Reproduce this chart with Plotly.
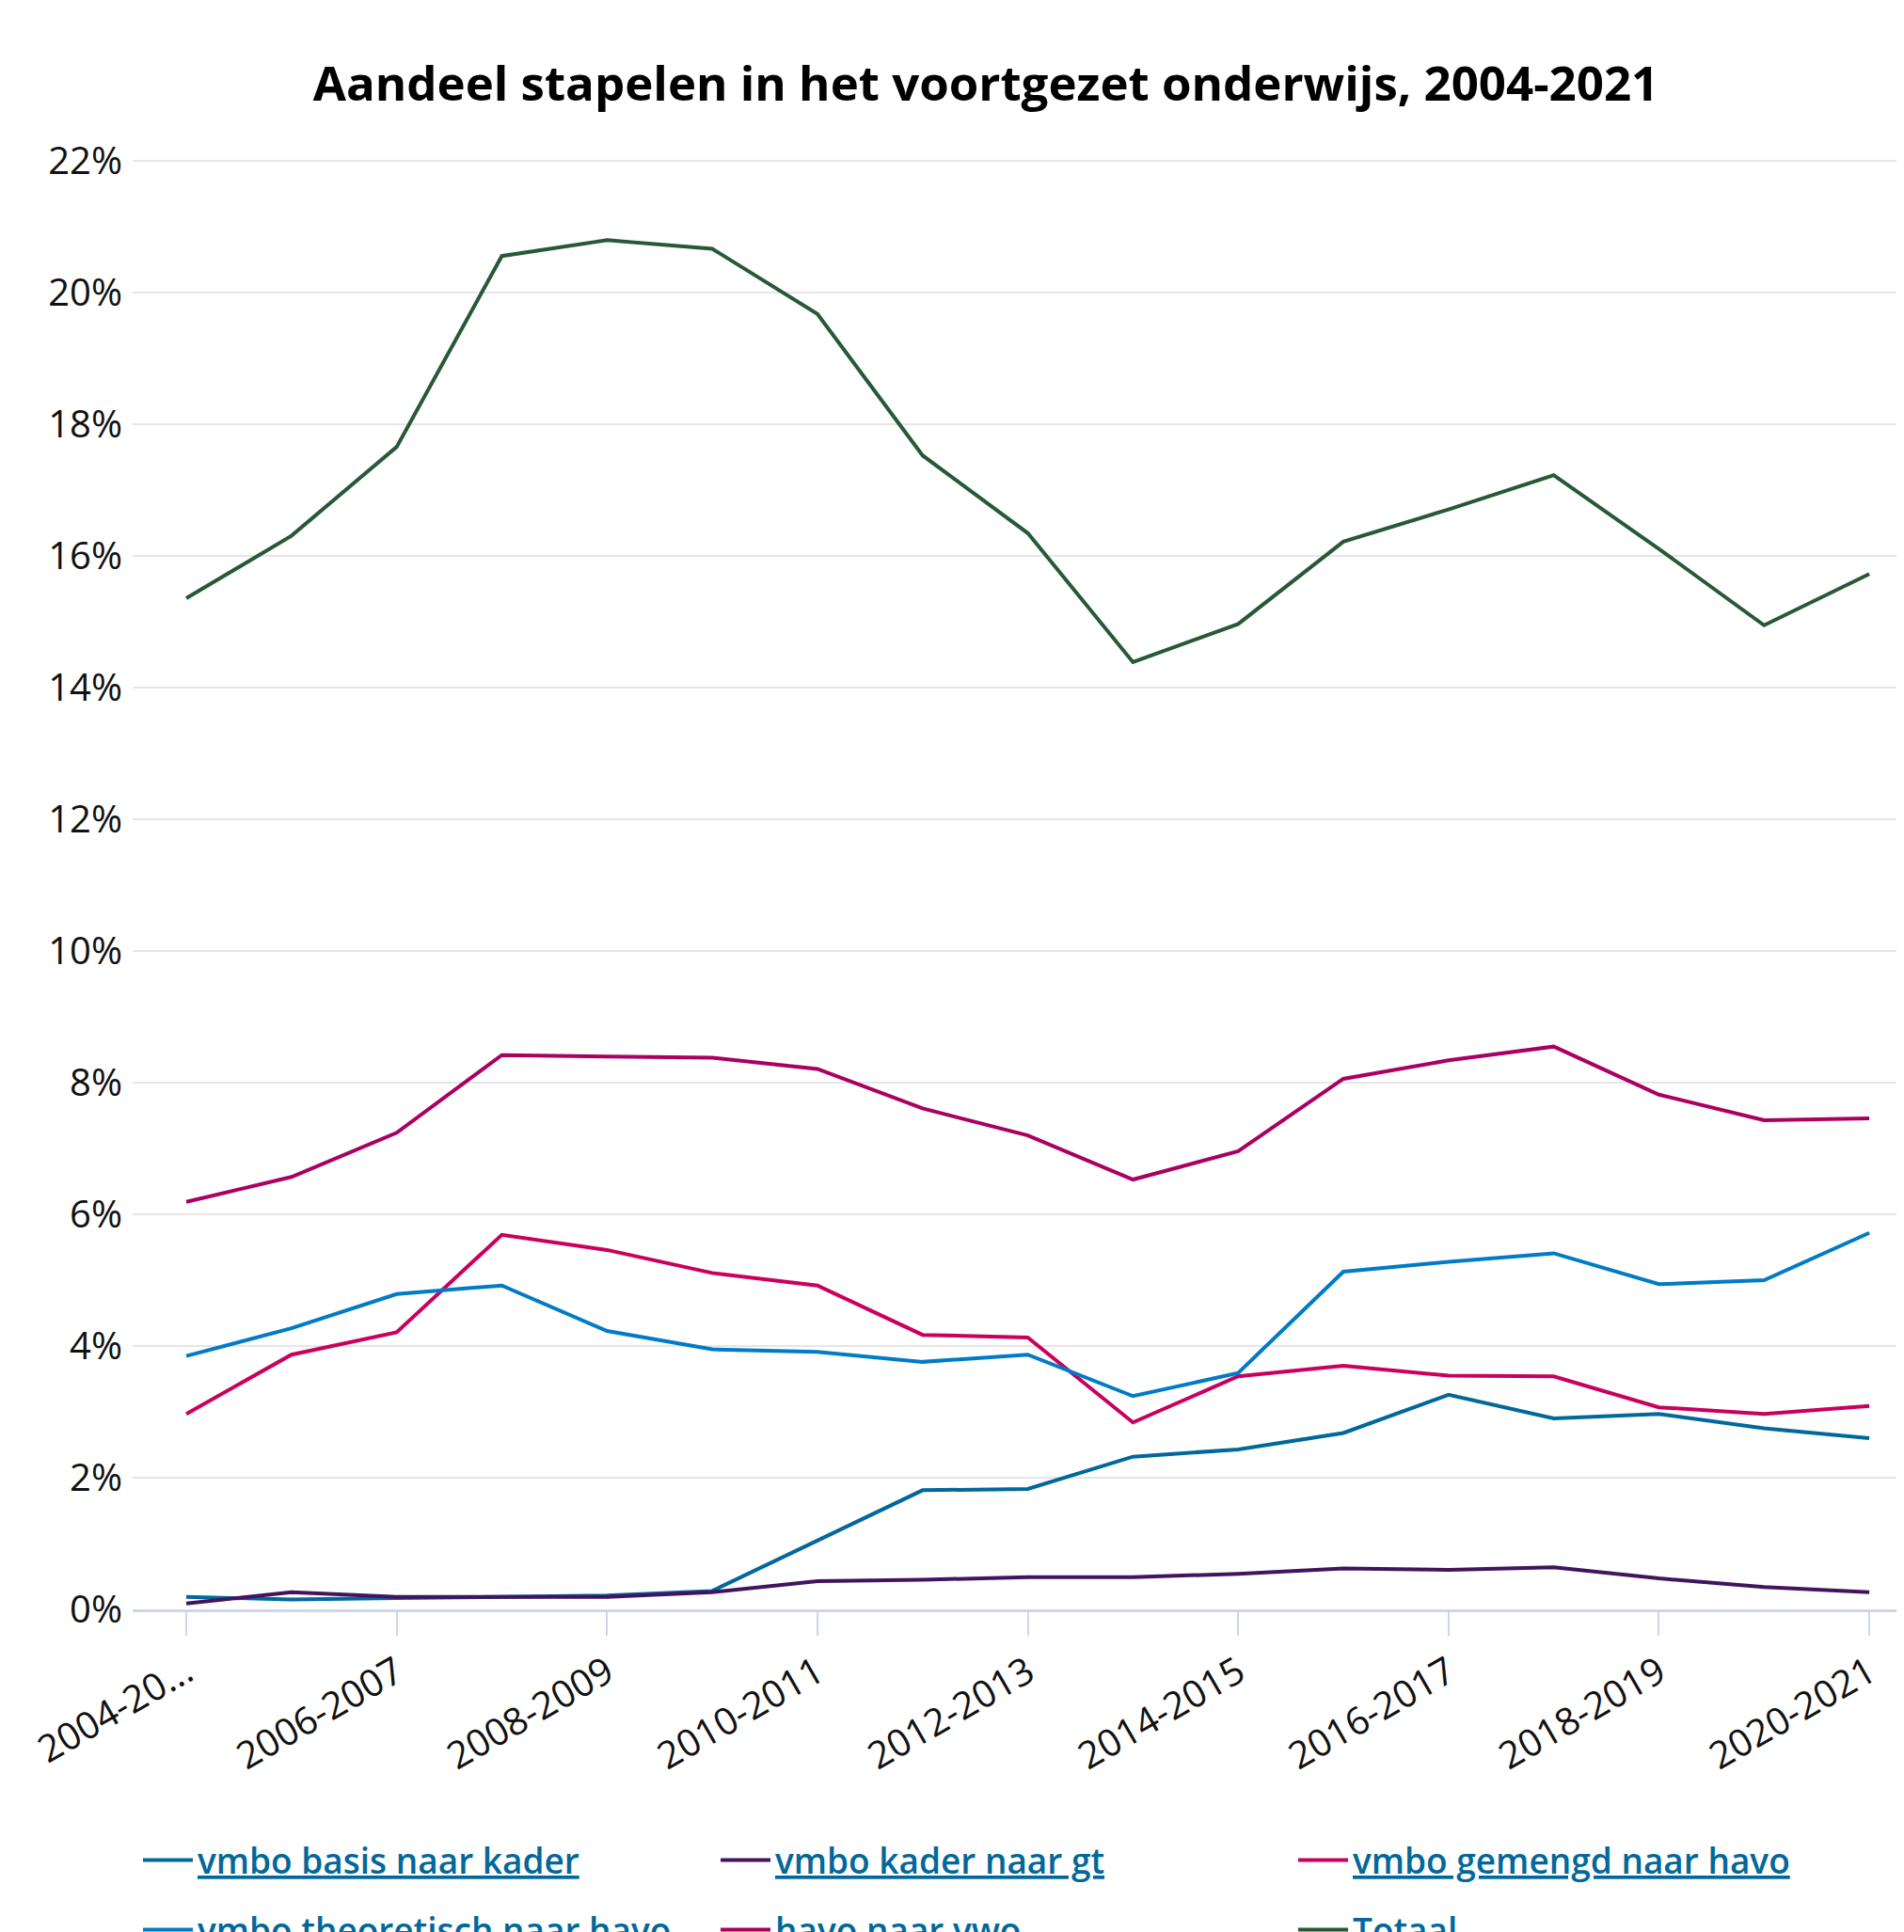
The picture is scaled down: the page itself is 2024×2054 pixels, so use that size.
import plotly.graph_objects as go

# school years (categories on the x axis)
years = [
    "2004-2005", "2005-2006", "2006-2007", "2007-2008", "2008-2009",
    "2009-2010", "2010-2011", "2011-2012", "2012-2013", "2013-2014",
    "2014-2015", "2015-2016", "2016-2017", "2017-2018", "2018-2019",
    "2019-2020", "2020-2021",
]

# share of students stacking, in percent
basis_kader = [0.19, 0.15, 0.17, 0.19, 0.21, 0.28, 1.05, 1.81, 1.83, 2.32,
               2.43, 2.68, 3.26, 2.90, 2.97, 2.75, 2.60]
kader_gt = [0.09, 0.26, 0.19, 0.19, 0.19, 0.26, 0.43, 0.45, 0.49, 0.49,
            0.54, 0.62, 0.60, 0.64, 0.47, 0.34, 0.26]
gemengd_havo = [2.97, 3.87, 4.21, 5.69, 5.46, 5.11, 4.92, 4.17, 4.13, 2.84,
                3.54, 3.70, 3.55, 3.54, 3.07, 2.97, 3.09]
theoretisch_havo = [3.85, 4.27, 4.79, 4.92, 4.23, 3.95, 3.91, 3.76, 3.87, 3.24,
                    3.59, 5.13, 5.28, 5.41, 4.94, 5.00, 5.72]
havo_vwo = [6.19, 6.57, 7.24, 8.42, 8.40, 8.38, 8.21, 7.61, 7.20, 6.53,
            6.96, 8.06, 8.34, 8.55, 7.82, 7.43, 7.46]
totaal = [15.36, 16.31, 17.66, 20.56, 20.80, 20.67, 19.68, 17.53, 16.35, 14.39,
          14.97, 16.22, 16.71, 17.23, 16.11, 14.95, 15.73]

series_names = [
    "vmbo basis naar kader", "vmbo kader naar gt", "vmbo gemengd naar havo",
    "vmbo theoretisch naar havo", "havo naar vwo", "Totaal",
]
series_values = [basis_kader, kader_gt, gemengd_havo, theoretisch_havo, havo_vwo, totaal]
series_colors = ["#01689b", "#42145f", "#ca005d", "#007bc7", "#a90061", "#275937"]

# every other year gets a tick; the first label is cut short like the original
tick_years = years[::2]
tick_text = [y if i else y[:7] + "..." for i, y in enumerate(tick_years)]

# the page body adds an 8px offset, so the figure is 8px smaller on each side
W, H = 2016, 2046

fig = go.Figure()

for i, (name, vals, color) in enumerate(zip(series_names, series_values, series_colors)):
    fig.add_trace(go.Scatter(
        x=years,
        y=vals,
        mode="lines",
        name="<u>" + name + "</u>",
        line=dict(color=color, width=4),
        legend="legend" if i < 3 else "legend2",
    ))

legend_font = dict(family="Open Sans", size=37, color="#01689b", weight=600)

fig.update_layout(
    width=W,
    height=H,
    margin=dict(l=133, r=0, t=162, b=343),
    paper_bgcolor="white",
    plot_bgcolor="white",
    font=dict(family="Open Sans", color="#111111"),
    title=dict(
        text="<b>Aandeel stapelen in het voortgezet onderwijs, 2004-2021</b>",
        x=1040 / W, xanchor="center",
        y=1 - 81 / H, yanchor="middle",
        font=dict(family="Open Sans", size=51, color="#000000"),
    ),
    xaxis=dict(
        type="category",
        range=[-0.51, 16.33],
        tickmode="array",
        tickvals=tick_years,
        ticktext=tick_text,
        tickangle=-30,
        ticks="outside",
        ticklen=25,
        tickwidth=2,
        tickcolor="#ccd6eb",
        showline=True,
        linecolor="#ccd6eb",
        linewidth=3,
        showgrid=False,
        tickfont=dict(family="Open Sans", size=40, color="#111111"),
    ),
    yaxis=dict(
        range=[0, 22.02],
        tick0=0,
        dtick=2,
        ticksuffix="%",
        showgrid=True,
        gridcolor="#e6e6e6",
        gridwidth=2,
        zeroline=False,
        ticks="",
        ticklabelstandoff=10,
        tickfont=dict(family="Open Sans", size=40, color="#111111"),
    ),
    legend=dict(
        orientation="h",
        xref="container", yref="container",
        x=139 / W, xanchor="left",
        y=1 - 1970 / H, yanchor="middle",
        entrywidthmode="pixels", entrywidth=546,
        itemwidth=53,
        font=legend_font,
        bgcolor="rgba(0,0,0,0)",
    ),
    legend2=dict(
        orientation="h",
        xref="container", yref="container",
        x=139 / W, xanchor="left",
        y=1 - 2044 / H, yanchor="middle",
        entrywidthmode="pixels", entrywidth=546,
        itemwidth=53,
        font=legend_font,
        bgcolor="rgba(0,0,0,0)",
    ),
    showlegend=True,
    hovermode="x unified",
)

fig.write_html("out.html")
